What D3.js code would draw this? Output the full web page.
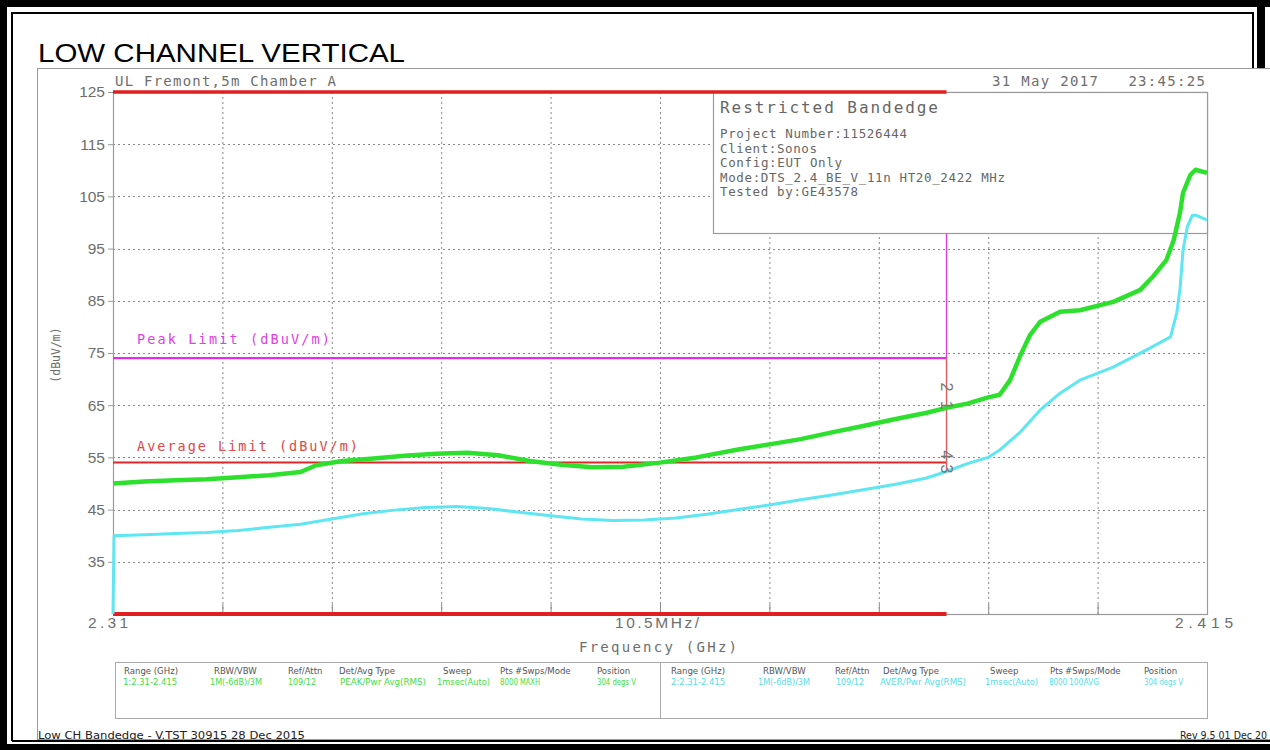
<!DOCTYPE html>
<html><head><meta charset="utf-8">
<script src="https://cdn.jsdelivr.net/npm/d3@7"></script>
<style>body{margin:0;background:#fff}svg{display:block}</style>
</head><body><svg id="c" width="1270" height="750"></svg>
<script>
// ---------- data ----------
const titleText = "LOW CHANNEL VERTICAL";
const freqDomain = [2.31, 2.415];
const dbDomain = [25, 125];
const yTicks = [35, 45, 55, 65, 75, 85, 95, 105, 115, 125];
const xLabels = ["2.31", "10.5MHz/", "2.415"];
const xLabelFreqs = [2.31, 2.3625, 2.415];
const peakLimit = 74;
const avgLimit = 54;
const bandEdge = 2.39;
const peakLabel = "Peak Limit (dBuV/m)";
const avgLabel = "Average Limit (dBuV/m)";

const peakFreq = [2.310,2.313,2.316,2.319,2.322,2.325,2.328,2.3295,2.332,2.335,2.338,2.341,2.344,2.347,2.350,2.353,2.356,2.359,2.3625,2.366,2.370,2.373,2.376,2.379,2.382,2.385,2.388,2.390,2.392,2.394,2.3951,2.3961,2.3971,2.3980,2.3990,2.4009,2.4028,2.4060,2.4086,2.4098,2.4111,2.4118,2.4124,2.4127,2.4134,2.4139,2.415];
const peakVal = [50.0,50.4,50.6,50.8,51.2,51.6,52.2,53.5,54.3,54.8,55.3,55.7,55.9,55.4,54.3,53.6,53.1,53.2,54.0,55.0,56.5,57.5,58.5,59.8,61.0,62.3,63.5,64.5,65.3,66.5,67.0,69.8,74.6,78.4,81.0,82.9,83.2,84.8,87.1,89.6,92.8,96.6,101.8,105.7,109.1,110.1,109.5];

const avgFreq = [2.310,2.3101,2.313,2.316,2.319,2.322,2.325,2.328,2.331,2.334,2.337,2.340,2.343,2.346,2.349,2.352,2.355,2.358,2.361,2.364,2.367,2.370,2.373,2.376,2.379,2.382,2.385,2.388,2.390,2.392,2.394,2.3951,2.3971,2.3990,2.4009,2.4028,2.4060,2.4092,2.4115,2.4121,2.4124,2.4127,2.4131,2.4136,2.4139,2.415];
const avgVal = [25,40.0,40.2,40.4,40.6,41.0,41.6,42.2,43.2,44.2,44.9,45.4,45.6,45.2,44.5,43.8,43.2,42.9,43.0,43.4,44.1,45.0,45.9,46.9,47.8,48.8,49.8,51.0,52.3,53.8,55.0,56.4,59.9,64.1,67.3,69.8,72.3,75.6,78.1,82.7,87.1,94.7,99.1,101.4,101.4,100.5];

const infoTitle = "Restricted Bandedge";
const infoLines = ["Project Number:11526444","Client:Sonos","Config:EUT Only","Mode:DTS_2.4_BE_V_11n HT20_2422 MHz","Tested by:GE43578"];
const headerLeft = "UL Fremont,5m Chamber A";
const headerRight = "31 May 2017   23:45:25";
const tableHeaders = ["Range (GHz)","RBW/VBW","Ref/Attn","Det/Avg Type","Sweep","Pts","#Swps/Mode","Position"];
const tableRow1 = ["1:2.31-2.415","1M(-6dB)/3M","109/12","PEAK/Pwr Avg(RMS)","1msec(Auto)","8000","MAXH","304 degs V"];
const tableRow2 = ["2:2.31-2.415","1M(-6dB)/3M","109/12","AVER/Pwr Avg(RMS)","1msec(Auto)","8000","100AVG","304 degs V"];
const footerLeft = "Low CH Bandedge - V.TST 30915 28 Dec 2015";
const footerRight = "Rev 9.5 01 Dec 20";
const markerLabels = ["2", "1", "4", "3"];
const markerDb = [68.5, 65.0, 55.5, 52.8];

// ---------- layout ----------
const svg = d3.select("#c");
const L = 113, R = 1207, T = 92, B = 614;
const x = d3.scaleLinear().domain(freqDomain).range([L, R]);
const y = d3.scaleLinear().domain(dbDomain).range([B, T]);
const grey = "#9a9a9a", txt = "#6e6e6e";
const mono = "'DejaVu Sans Mono','Liberation Mono',monospace";
const sans = "'Liberation Sans',Arial,sans-serif";
const tf = "'DejaVu Sans Condensed','Liberation Sans Narrow','Liberation Sans',sans-serif";

svg.append("rect").attr("width",1270).attr("height",750).attr("fill","#fff");

// outer frame
const blk = "#000";
svg.append("rect").attr("x",0).attr("y",0).attr("width",1270).attr("height",7).attr("fill",blk);
svg.append("rect").attr("x",0).attr("y",0).attr("width",7).attr("height",750).attr("fill",blk);
svg.append("rect").attr("x",1257).attr("y",0).attr("width",8).attr("height",70).attr("fill",blk);
svg.append("rect").attr("x",0).attr("y",744).attr("width",1270).attr("height",6).attr("fill",blk);
svg.append("path").attr("d","M12,741 V13 H1253 V70").attr("fill","none").attr("stroke",blk).attr("stroke-width",2);
svg.append("line").attr("x1",12).attr("x2",1270).attr("y1",741).attr("y2",741).attr("stroke",blk).attr("stroke-width",2);

// title
svg.append("text").attr("x",38).attr("y",62).attr("font-family",sans).attr("font-size",25)
  .attr("textLength",367).attr("lengthAdjust","spacingAndGlyphs").attr("fill","#000").text(titleText);

// chart panel
svg.append("rect").attr("x",37.5).attr("y",68.5).attr("width",1250).attr("height",671)
  .attr("fill","#fff").attr("stroke",grey).attr("stroke-width",1);

// header texts
svg.append("text").attr("x",115).attr("y",86).attr("font-family",mono).attr("font-size",14)
  .attr("fill",txt).attr("textLength",221).attr("lengthAdjust","spacing").text(headerLeft);
svg.append("text").attr("x",992).attr("y",86).attr("font-family",mono).attr("font-size",14)
  .attr("fill",txt).attr("textLength",213).attr("lengthAdjust","spacing").attr("xml:space","preserve").text(headerRight);

// grid
const gx = d3.range(1,10).map(i => freqDomain[0] + i*(freqDomain[1]-freqDomain[0])/10);
svg.append("g").selectAll("line").data(gx).join("line")
  .attr("x1",d=>x(d)+0.5).attr("x2",d=>x(d)+0.5).attr("y1",T).attr("y2",B)
  .attr("stroke","#8a8a8a").attr("stroke-width",1).attr("stroke-dasharray","2,3");
svg.append("g").selectAll("line").data(yTicks.filter(v=>v<125)).join("line")
  .attr("x1",L).attr("x2",R).attr("y1",d=>Math.round(y(d))+0.5).attr("y2",d=>Math.round(y(d))+0.5)
  .attr("stroke","#8a8a8a").attr("stroke-width",1).attr("stroke-dasharray","2,3");
svg.append("g").selectAll("line").data(gx).join("line")
  .attr("x1",d=>x(d)+0.5).attr("x2",d=>x(d)+0.5).attr("y1",B-10).attr("y2",B)
  .attr("stroke","#8a8a8a").attr("stroke-width",1);

// plot frame
svg.append("rect").attr("x",L+0.5).attr("y",T+0.5).attr("width",R-L).attr("height",B-T)
  .attr("fill","none").attr("stroke",grey).attr("stroke-width",1.2);

// y axis
const yAxis = d3.axisLeft(y).tickValues(yTicks).tickSize(5).tickPadding(3).tickFormat(d3.format("d"));
const ga = svg.append("g").attr("transform",`translate(${L},0)`).call(yAxis);
ga.select(".domain").remove();
ga.selectAll(".tick line").attr("stroke",grey);
ga.selectAll(".tick text").attr("font-family",sans).attr("font-size",15.5).attr("fill",txt);

svg.append("text").attr("transform",`translate(60,355) rotate(-90)`).attr("text-anchor","middle")
  .attr("font-family",mono).attr("font-size",11.5).attr("fill",txt).text("(dBuV/m)");

// x labels
svg.append("g").selectAll("text").data(xLabels).join("text")
  .attr("x",(d,i)=>x(xLabelFreqs[i]) + (i===0?-5:-3)).attr("y",628)
  .attr("text-anchor","middle").attr("font-family",sans).attr("font-size",15.5).attr("fill",txt)
  .attr("textLength",(d,i)=>[40,84,58][i]).attr("lengthAdjust","spacing").text(d=>d);
svg.append("text").attr("x",658).attr("y",652).attr("text-anchor","middle").attr("font-family",mono)
  .attr("font-size",14).attr("fill",txt).attr("textLength",158).attr("lengthAdjust","spacing").text("Frequency (GHz)");

// info box
const bx = 713.5, by = T+0.5;
svg.append("rect").attr("x",bx).attr("y",by).attr("width",R-bx+0.5).attr("height",141)
  .attr("fill","#fff").attr("stroke",grey).attr("stroke-width",1.2);
svg.append("text").attr("x",720).attr("y",113).attr("font-family",mono).attr("font-size",16)
  .attr("fill","#666").attr("textLength",218).attr("lengthAdjust","spacing").text(infoTitle);
const infoW = [187, 97, 122, 285, 138];
svg.append("g").selectAll("text").data(infoLines).join("text")
  .attr("x",720).attr("y",(d,i)=>138+i*14.5).attr("font-family",mono).attr("font-size",12.5)
  .attr("fill","#666").attr("textLength",(d,i)=>infoW[i]).attr("lengthAdjust","spacing").text(d=>d);

// restricted band lines
svg.append("line").attr("x1",L).attr("x2",x(bandEdge)).attr("y1",y(125)).attr("y2",y(125))
  .attr("stroke","#e02020").attr("stroke-width",3.5);
svg.append("line").attr("x1",L).attr("x2",x(bandEdge)).attr("y1",y(25)).attr("y2",y(25))
  .attr("stroke","#e02020").attr("stroke-width",4);

// limit lines
svg.append("line").attr("x1",L).attr("x2",x(bandEdge)).attr("y1",y(peakLimit)).attr("y2",y(peakLimit))
  .attr("stroke","#e030e0").attr("stroke-width",2.2);
svg.append("line").attr("x1",L).attr("x2",x(bandEdge)).attr("y1",y(avgLimit)).attr("y2",y(avgLimit))
  .attr("stroke","#d82828").attr("stroke-width",2);
svg.append("line").attr("x1",x(bandEdge)).attr("x2",x(bandEdge)).attr("y1",y(peakLimit)).attr("y2",by+141)
  .attr("stroke","#e040e0").attr("stroke-width",1.5);
svg.append("line").attr("x1",x(bandEdge)).attr("x2",x(bandEdge)).attr("y1",y(avgLimit)+8).attr("y2",y(peakLimit))
  .attr("stroke","#e06060").attr("stroke-width",1.5);

svg.append("text").attr("x",137).attr("y",344).attr("font-family",mono).attr("font-size",13.5)
  .attr("fill","#e040e0").attr("textLength",193).attr("lengthAdjust","spacing").text(peakLabel);
svg.append("text").attr("x",137).attr("y",451).attr("font-family",mono).attr("font-size",13.5)
  .attr("fill","#e04848").attr("textLength",221).attr("lengthAdjust","spacing").text(avgLabel);

// traces
const line = d3.line().x(d=>x(d[0])).y(d=>y(d[1]));
svg.append("path").datum(avgFreq.map((f,i)=>[f,avgVal[i]])).attr("d",line)
  .attr("fill","none").attr("stroke","#5ee6f2").attr("stroke-width",3).attr("stroke-linejoin","round");
svg.append("path").datum(peakFreq.map((f,i)=>[f,peakVal[i]])).attr("d",line)
  .attr("fill","none").attr("stroke","#2ee02e").attr("stroke-width",4.5).attr("stroke-linejoin","round");

// markers
svg.append("g").selectAll("text").data(markerLabels).join("text")
  .attr("transform",(d,i)=>`translate(${x(bandEdge)-6},${y(markerDb[i])}) rotate(90)`)
  .attr("text-anchor","middle").attr("font-family",sans).attr("font-size",16).attr("fill","#777").text(d=>d);

// settings table
svg.append("rect").attr("x",115.5).attr("y",662.5).attr("width",1092).attr("height",56)
  .attr("fill","none").attr("stroke","#aaa");
svg.append("line").attr("x1",660.5).attr("x2",660.5).attr("y1",662.5).attr("y2",718.5).attr("stroke","#aaa");
const colL = [124,214,288,339,443,500,515,597];
const colR = [671,763,835,883,990,1050,1065,1144];
const valL = [123,210,288,340,437,500,520,597];
const valR = [671,758,836,880,985,1049,1069,1144];
const valW = [54,52,28,86,53,18,20,39];
[[colL,valL,tableRow1,"#44dd44"],[colR,valR,tableRow2,"#55dde8"]].forEach(([cx,vx,row,col])=>{
  svg.append("g").selectAll("text").data(tableHeaders).join("text")
    .attr("x",(d,i)=>cx[i]).attr("y",674).attr("font-family",tf).attr("font-size",9.5).attr("fill","#555").text(d=>d);
  svg.append("g").selectAll("text").data(row).join("text")
    .attr("x",(d,i)=>vx[i]).attr("y",685).attr("font-family",tf).attr("font-size",9.5).attr("fill",col)
    .attr("textLength",(d,i)=>i===6&&row===tableRow2?30:valW[i]).attr("lengthAdjust","spacingAndGlyphs").text(d=>d);
});

// footer
svg.append("text").attr("x",38).attr("y",739).attr("font-family",tf).attr("font-size",10.5).attr("fill","#222")
  .attr("textLength",267).attr("lengthAdjust","spacingAndGlyphs").text(footerLeft);
svg.append("text").attr("x",1180).attr("y",739).attr("font-family",tf).attr("font-size",10.5).attr("fill","#222")
  .attr("textLength",87).attr("lengthAdjust","spacingAndGlyphs").text(footerRight);
</script></body></html>
